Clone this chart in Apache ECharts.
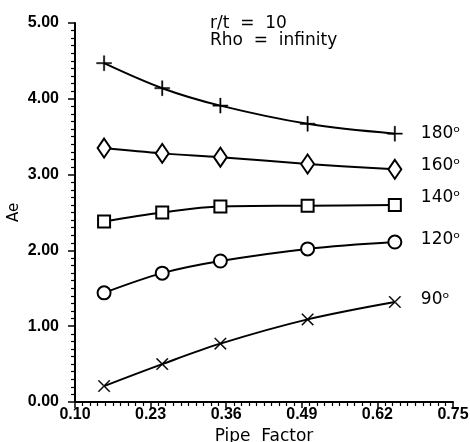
<!DOCTYPE html>
<html>
<head>
<meta charset="utf-8">
<script src="https://cdn.jsdelivr.net/npm/echarts@6/dist/echarts.min.js"></script>
<style>
html,body{margin:0;padding:0;background:#fff;}
#c{width:470px;height:442px;}
</style>
</head>
<body>
<div id="c"></div>
<script>
// Data
var pipeFactor = [0.15, 0.25, 0.35, 0.50, 0.65];
var ae180 = [4.47, 4.14, 3.91, 3.67, 3.54];
var ae160 = [3.35, 3.28, 3.23, 3.14, 3.07];
var ae140 = [2.38, 2.50, 2.58, 2.59, 2.60];
var ae120 = [1.44, 1.70, 1.86, 2.02, 2.11];
var ae90  = [0.21, 0.50, 0.77, 1.09, 1.32];
var seriesNames = ['180', '160', '140', '120', '90'];
var xTicks = [0.10, 0.23, 0.36, 0.49, 0.62, 0.75];
var yTicks = [0, 1, 2, 3, 4, 5];
var titleLines = ['r/t  =  10', 'Rho  =  infinity'];

var plusPath = 'path://M9.1,0H10.9V9.1H20V10.9H10.9V20H9.1V10.9H0V9.1H9.1Z';
var crossPath = 'path://M0,1.3L1.3,0L20,18.7L18.7,20Z M18.7,0L0,18.7L1.3,20L20,1.3Z';

function pairs(vals){ return pipeFactor.map(function(x,i){ return [x, vals[i]]; }); }

var chart = echarts.init(document.getElementById('c'), null, {renderer:'canvas'});

function mkSeries(name, vals, symbol, size, offY, filled){
  return {
    name: name,
    type: 'line',
    data: pairs(vals),
    smooth: 0.35,
    symbol: symbol,
    symbolSize: size,
    showAllSymbol: true,
    lineStyle: {color:'#000', width:2},
    itemStyle: filled ? {color:'#000', borderColor:'#000', borderWidth:0.4}
                      : {color:'#000', borderColor:'#000', borderWidth:1.7},
    emphasis: {disabled:true},
    endLabel: {
      show: true,
      distance: 26,
      offset: [0, offY],
      formatter: function(){ return name + '\u1D52'; },
      fontFamily: 'DejaVu Sans',
      fontSize: 17,
      color: '#000'
    },
    z: 3
  };
}

chart.setOption({
  animation: false,
  backgroundColor: '#fff',
  title: {
    text: titleLines.join('\n'),
    left: 205, top: 10,
    textStyle: {fontFamily:'DejaVu Sans', fontSize:17, fontWeight:'normal', color:'#000', lineHeight:17}
  },
  grid: {left:75, right:17, top:23, bottom:40, containLabel:false, outerBoundsMode:'none'},
  xAxis: {
    type: 'value',
    min: 0.10, max: 0.75, interval: 0.13,
    name: 'Pipe  Factor',
    nameLocation: 'middle',
    nameGap: 21,
    nameTextStyle: {fontFamily:'DejaVu Sans', fontSize:17, color:'#000'},
    axisLine: {show:true, lineStyle:{color:'#000', width:2}},
    axisTick: {show:true, length:6, lineStyle:{color:'#000', width:1.5}},
    minorTick: {show:true, splitNumber:10, length:4, lineStyle:{color:'#000', width:1.2}},
    splitLine: {show:false},
    axisLabel: {
      fontFamily:'Liberation Sans', fontWeight:'bold', fontSize:16, color:'#000', margin:5,
      formatter: function(v){ return v.toFixed(2); }
    }
  },
  yAxis: {
    type: 'value',
    min: 0, max: 5, interval: 1,
    name: 'Ae',
    nameLocation: 'middle',
    nameGap: 53,
    nameRotate: 90,
    nameMoveOverlap: false,
    nameTextStyle: {fontFamily:'DejaVu Sans', fontSize:15, color:'#000'},
    axisLine: {show:true, lineStyle:{color:'#000', width:2}},
    axisTick: {show:true, length:7, lineStyle:{color:'#000', width:1.5}},
    minorTick: {show:true, splitNumber:10, length:4, lineStyle:{color:'#000', width:1.2}},
    splitLine: {show:false},
    axisLabel: {
      fontFamily:'Liberation Sans', fontWeight:'bold', fontSize:16, color:'#000', margin:16,
      formatter: function(v){ return v.toFixed(2); }
    }
  },
  series: [
    mkSeries(seriesNames[0], ae180, plusPath, 15, 0, true),
    mkSeries(seriesNames[1], ae160, 'emptyDiamond', [13,19], -4, false),
    mkSeries(seriesNames[2], ae140, 'emptyRect', 12, -7, false),
    mkSeries(seriesNames[3], ae120, 'emptyCircle', 13, -2, false),
    mkSeries(seriesNames[4], ae90, crossPath, 12, -2, true)
  ]
});
</script>
</body>
</html>
